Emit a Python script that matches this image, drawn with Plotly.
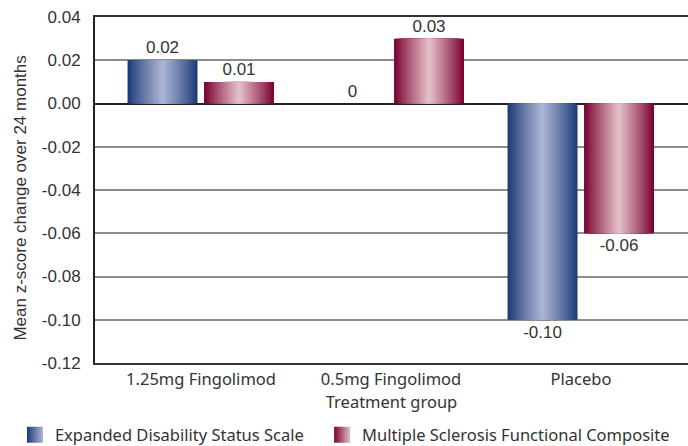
import plotly.graph_objects as go

# Mean z-score change over 24 months by treatment group
groups = ["1.25mg Fingolimod", "0.5mg Fingolimod", "Placebo"]
edss = [0.02, 0.0, -0.10]
msfc = [0.01, 0.03, -0.06]
series_names = ["Expanded Disability Status Scale", "Multiple Sclerosis Functional Composite"]
y_ticks = [0.04, 0.02, 0.00, -0.02, -0.04, -0.06, -0.08, -0.10, -0.12]
y_title = "Mean z-score change over 24 months"

# gradient end colours per series: (edge, centre)
palettes = [((28, 58, 120), (172, 180, 212)), ((122, 0, 50), (228, 190, 198))]
bar_w = 0.368
centres = [-0.2026, 0.2]
n_layers = 22

ARIAL = "Liberation Sans, Arial, sans-serif"
HUMANIST = "Noto Sans, Open Sans, sans-serif"

def mix(a, b, t):
    return "rgb(%d,%d,%d)" % tuple(round(a[i] + (b[i] - a[i]) * t) for i in range(3))

def label(v):
    return "0" if v == 0 else f"{v:.2f}"

fig = go.Figure()
for values, (edge, mid), c in zip([edss, msfc], palettes, centres):
    for k in range(n_layers):
        w = bar_w * (1 - k / n_layers)
        t = (k / (n_layers - 1)) ** 0.9
        fig.add_trace(go.Bar(
            x=groups, y=values, width=w, offset=c - w / 2,
            marker=dict(color=mix(edge, mid, t), line=dict(width=0)),
            text=[label(v) for v in values] if k == 0 else None,
            textposition="outside" if k == 0 else "none",
            textfont=dict(family=ARIAL, size=17, color="#333333"),
            cliponaxis=False, showlegend=False, hoverinfo="skip",
        ))

# legend swatches, one legend box per series
for i, (name, (edge, mid)) in enumerate(zip(series_names, palettes)):
    fig.add_trace(go.Scatter(
        x=[None], y=[None], mode="markers", name=name,
        legend="legend" if i == 0 else "legend2",
        marker=dict(symbol="square", size=16, color=mix(edge, edge, 0),
                    gradient=dict(type="horizontal", color=mix(mid, mid, 0)),
                    line=dict(width=0)),
    ))

legend_common = dict(orientation="h", xanchor="left", y=-0.208, yanchor="middle",
                     font=dict(family=HUMANIST, size=16.5, color="#333333"),
                     itemsizing="trace", bgcolor="rgba(0,0,0,0)")

fig.update_layout(
    width=688, height=446,
    margin=dict(l=95, r=0, t=17, b=83, autoexpand=False),
    barmode="overlay",
    plot_bgcolor="white", paper_bgcolor="white",
    font=dict(family=HUMANIST, size=16.5, color="#333333"),
    showlegend=True,
    legend=dict(x=-0.135, **legend_common),
    legend2=dict(x=0.383, **legend_common),
    xaxis=dict(
        type="category", range=[-0.558, 2.563],
        showline=True, linecolor="#333333", linewidth=2, mirror=True,
        showgrid=False, ticks="", ticklabelstandoff=0,
        title=dict(text="Treatment group", standoff=6, font=dict(family=HUMANIST, size=16.5)),
        tickfont=dict(family=HUMANIST, size=16.5),
    ),
    yaxis=dict(
        range=[-0.12, 0.04], tickvals=y_ticks, ticktext=[f"{v:.2f}" for v in y_ticks],
        showgrid=True, gridcolor="#8c8c8c", gridwidth=1.5,
        zeroline=True, zerolinecolor="#222222", zerolinewidth=2,
        showline=True, linecolor="#222222", linewidth=2,
        ticks="", ticklabelstandoff=9,
        tickfont=dict(family=ARIAL, size=17, color="#333333"),
    ),
    annotations=[dict(
        text=y_title, textangle=-90, xref="paper", yref="paper",
        x=-0.1248, y=0.478, xanchor="center", yanchor="middle", showarrow=False,
        font=dict(family=ARIAL, size=17, color="#333333"),
    )],
)

fig.write_html("out.html")
